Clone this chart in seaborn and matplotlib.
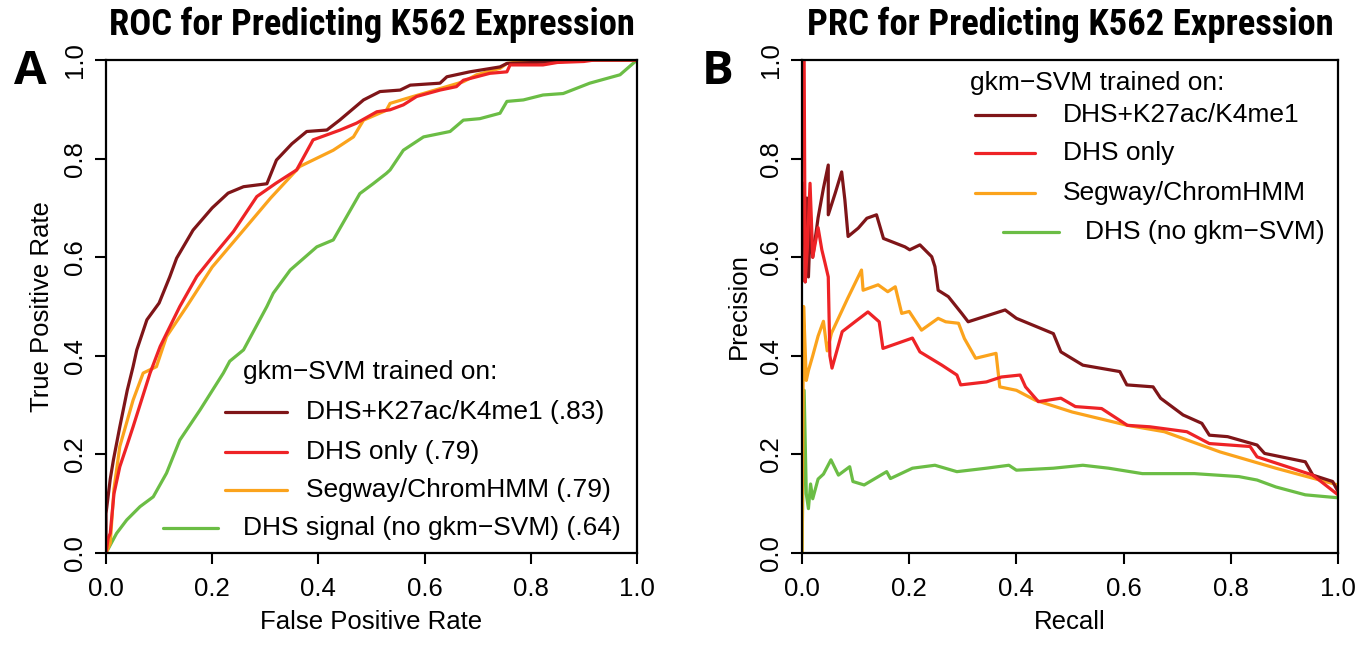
import numpy as np
import pandas as pd
import matplotlib
matplotlib.use("Agg")
import matplotlib.pyplot as plt
import seaborn as sns
from matplotlib.lines import Line2D
from matplotlib import font_manager

# ---------------- data ----------------
series_names = ["DHS+K27ac/K4me1", "DHS only", "Segway/ChromHMM", "DHS signal"]
roc_auc_labels = ["(.83)", "(.79)", "(.79)", "(.64)"]
colors = ["#7f1518", "#ee2326", "#fba31c", "#6bbd45"]

# ROC curves (FPR, TPR)
roc_darkred_x = [0, 0.0, 0.008, 0.014, 0.026, 0.04, 0.051, 0.058, 0.077, 0.10, 0.12, 0.133, 0.164, 0.2, 0.23,
                 0.259, 0.303, 0.321, 0.35, 0.378, 0.416, 0.44, 0.485, 0.516, 0.554, 0.573, 0.629, 0.642,
                 0.685, 0.742, 0.755, 0.861, 0.9, 1.0]
roc_darkred_y = [0, 0.08, 0.15, 0.189, 0.256, 0.33, 0.378, 0.412, 0.473, 0.507, 0.56, 0.598, 0.655, 0.70, 0.73,
                 0.743, 0.749, 0.797, 0.83, 0.855, 0.858, 0.878, 0.919, 0.936, 0.939, 0.949, 0.953, 0.966,
                 0.976, 0.986, 0.993, 0.997, 1.0, 1.0]

roc_red_x = [0, 0.004, 0.008, 0.015, 0.026, 0.04, 0.051, 0.083, 0.102, 0.139, 0.171, 0.2, 0.24, 0.284, 0.32,
             0.359, 0.39, 0.441, 0.472, 0.51, 0.535, 0.56, 0.585, 0.629, 0.66, 0.673, 0.723, 0.755, 0.761,
             0.823, 0.85, 0.9, 0.92, 1.0]
roc_red_y = [0, 0.03, 0.04, 0.12, 0.175, 0.22, 0.256, 0.365, 0.419, 0.5, 0.561, 0.6, 0.652, 0.723, 0.75,
             0.777, 0.838, 0.858, 0.872, 0.895, 0.899, 0.909, 0.926, 0.939, 0.946, 0.959, 0.973, 0.976, 0.99,
             0.99, 0.995, 0.997, 1.0, 1.0]

roc_orange_x = [0, 0.008, 0.015, 0.026, 0.051, 0.07, 0.095, 0.114, 0.152, 0.2, 0.259, 0.31, 0.365, 0.428,
                0.466, 0.485, 0.528, 0.535, 0.566, 0.629, 0.673, 0.698, 0.742, 0.755, 0.8, 1.0]
roc_orange_y = [0, 0.02, 0.13, 0.216, 0.31, 0.365, 0.378, 0.439, 0.5, 0.58, 0.655, 0.72, 0.784, 0.817,
                0.844, 0.878, 0.898, 0.912, 0.922, 0.942, 0.956, 0.97, 0.983, 0.993, 1.0, 1.0]

roc_green_x = [0, 0.01, 0.02, 0.039, 0.064, 0.089, 0.114, 0.139, 0.177, 0.221, 0.233, 0.259, 0.303, 0.315,
               0.347, 0.397, 0.428, 0.478, 0.503, 0.528, 0.535, 0.56, 0.598, 0.648, 0.673, 0.704, 0.742,
               0.755, 0.786, 0.823, 0.861, 0.911, 0.968, 1.0]
roc_green_y = [0, 0.02, 0.04, 0.067, 0.094, 0.114, 0.162, 0.229, 0.29, 0.365, 0.389, 0.412, 0.5, 0.527,
               0.574, 0.621, 0.635, 0.729, 0.749, 0.77, 0.777, 0.817, 0.844, 0.855, 0.878, 0.881, 0.892,
               0.916, 0.919, 0.929, 0.932, 0.953, 0.97, 1.0]

# PRC curves (Recall, Precision)
prc_darkred_x = [0.003, 0.006, 0.009, 0.012, 0.016, 0.02, 0.03, 0.04, 0.049, 0.049, 0.062, 0.074, 0.080,
                 0.086, 0.105, 0.121, 0.139, 0.152, 0.192, 0.201, 0.22, 0.242, 0.248, 0.254, 0.273, 0.298,
                 0.31, 0.379, 0.4, 0.469, 0.483, 0.524, 0.593, 0.606, 0.655, 0.669, 0.711, 0.746, 0.76,
                 0.794, 0.849, 0.863, 0.939, 0.953, 0.99, 1.0]
prc_darkred_y = [0.75, 0.55, 0.72, 0.56, 0.68, 0.60, 0.68, 0.74, 0.787, 0.686, 0.73, 0.773, 0.716,
                 0.642, 0.659, 0.679, 0.686, 0.638, 0.621, 0.615, 0.625, 0.601, 0.581, 0.533, 0.52, 0.486,
                 0.469, 0.493, 0.476, 0.445, 0.408, 0.381, 0.368, 0.341, 0.337, 0.314, 0.28, 0.263, 0.239,
                 0.236, 0.219, 0.202, 0.185, 0.158, 0.145, 0.125]

prc_red_x = [0.004, 0.006, 0.01, 0.015, 0.02, 0.03, 0.037, 0.043, 0.049, 0.052, 0.056, 0.075, 0.1,
             0.123, 0.144, 0.151, 0.206, 0.22, 0.261, 0.289, 0.296, 0.344, 0.372, 0.407, 0.417, 0.441,
             0.483, 0.51, 0.559, 0.607, 0.649, 0.718, 0.76, 0.836, 0.849, 0.953, 1.0]
prc_red_y = [1.0, 0.55, 0.62, 0.75, 0.60, 0.66, 0.615, 0.588, 0.56, 0.40, 0.375, 0.449, 0.47,
             0.489, 0.469, 0.415, 0.436, 0.408, 0.381, 0.361, 0.341, 0.347, 0.357, 0.361, 0.337, 0.307,
             0.314, 0.297, 0.293, 0.259, 0.256, 0.246, 0.222, 0.216, 0.195, 0.158, 0.118]

prc_orange_x = [0.0, 0.003, 0.008, 0.012, 0.02, 0.03, 0.04, 0.047, 0.055, 0.085, 0.111, 0.114, 0.142, 0.16,
                0.174, 0.186, 0.2, 0.223, 0.254, 0.268, 0.292, 0.303, 0.324, 0.362, 0.369, 0.4, 0.435,
                0.504, 0.607, 0.676, 0.78, 0.884, 1.0]
prc_orange_y = [0.0, 0.5, 0.35, 0.37, 0.40, 0.44, 0.47, 0.41, 0.446, 0.516, 0.574, 0.533, 0.544, 0.53,
                0.54, 0.486, 0.49, 0.452, 0.476, 0.469, 0.466, 0.435, 0.395, 0.405, 0.337, 0.33, 0.31,
                0.286, 0.259, 0.246, 0.205, 0.172, 0.138]

prc_green_x = [0.0, 0.004, 0.008, 0.012, 0.016, 0.02, 0.03, 0.04, 0.054, 0.068, 0.089, 0.095, 0.116, 0.158,
               0.165, 0.206, 0.248, 0.289, 0.344, 0.386, 0.4, 0.469, 0.524, 0.572, 0.635, 0.732, 0.815,
               0.849, 0.884, 0.939, 1.0]
prc_green_y = [0.0, 0.33, 0.12, 0.09, 0.14, 0.11, 0.15, 0.16, 0.189, 0.158, 0.175, 0.145, 0.138, 0.165,
               0.151, 0.172, 0.178, 0.165, 0.172, 0.178, 0.168, 0.172, 0.178, 0.172, 0.161, 0.161, 0.155,
               0.148, 0.134, 0.118, 0.112]

tick_values = [0.0, 0.2, 0.4, 0.6, 0.8, 1.0]
tick_labels = ["0.0", "0.2", "0.4", "0.6", "0.8", "1.0"]

# ---------------- style ----------------
sns.set_style("white")
plt.rcParams["font.family"] = ["Liberation Sans", "DejaVu Sans"]
for k in ["text.color", "axes.labelcolor", "xtick.color", "ytick.color", "axes.edgecolor"]:
    plt.rcParams[k] = "black"

W, H = 1371, 646
fig = plt.figure(figsize=(W / 100, H / 100), dpi=100)
axA = fig.add_axes([106 / W, 1 - 553 / H, 531 / W, 493 / H])
axB = fig.add_axes([802 / W, 1 - 553 / H, 536 / W, 493 / H])

FS = 18.5
LFS = 19
LW = 2.3

def draw(ax, xs, ys, col):
    df = pd.DataFrame({"x": xs, "y": ys})
    sns.lineplot(data=df, x="x", y="y", sort=False, estimator=None, color=col, lw=LW, ax=ax)

roc = [(roc_darkred_x, roc_darkred_y), (roc_red_x, roc_red_y),
       (roc_orange_x, roc_orange_y), (roc_green_x, roc_green_y)]
prc = [(prc_darkred_x, prc_darkred_y), (prc_red_x, prc_red_y),
       (prc_orange_x, prc_orange_y), (prc_green_x, prc_green_y)]
order = [3, 2, 0, 1]
for i in order:
    draw(axA, roc[i][0], roc[i][1], colors[i])
    draw(axB, prc[i][0], prc[i][1], colors[i])

for ax, xl, yl, ylx in [(axA, "False Positive Rate", "True Positive Rate", -0.121),
                        (axB, "Recall", "Precision", -0.118)]:
    ax.set_xlim(0, 1)
    ax.set_ylim(0, 1)
    ax.set_xticks(tick_values)
    ax.set_xticklabels(tick_labels)
    ax.set_yticks(tick_values)
    ax.set_yticklabels(tick_labels, rotation=90, va="center")
    for s in ax.spines.values():
        s.set_visible(True)
        s.set_color("black")
        s.set_linewidth(1.6)
    ax.tick_params(axis="both", direction="out", length=8, width=1.5, colors="black",
                   labelsize=FS, bottom=True, left=True, top=False, right=False)
    ax.tick_params(axis="x", pad=9)
    ax.tick_params(axis="y", pad=6)
    ax.set_xlabel(xl, fontsize=FS, va="center")
    ax.set_ylabel(yl, fontsize=FS, va="center")
    ax.xaxis.set_label_coords(0.5, -0.14)
    ax.yaxis.set_label_coords(ylx, 0.5)
    ax.grid(False)

# legends (drawn manually to mimic the R layout)
def legend(ax, title_xy, ys, line_x, text_x, gline_x, gtext_x, labels):
    ax.text(title_xy[0], title_xy[1], "gkm\u2212SVM trained on:", transform=ax.transAxes,
            fontsize=LFS, ha="left", va="center")
    for i in range(4):
        lx = gline_x if i == 3 else line_x
        tx = gtext_x if i == 3 else text_x
        ax.add_line(Line2D(lx, [ys[i], ys[i]], transform=ax.transAxes, color=colors[i], lw=LW))
        ax.text(tx, ys[i], labels[i], transform=ax.transAxes, fontsize=LFS, ha="left", va="center")

labelsA = [f"{series_names[i]} {roc_auc_labels[i]}" for i in range(3)] + \
          ["DHS signal (no gkm\u2212SVM) " + roc_auc_labels[3]]
legend(axA, (0.258, 0.367), [0.287, 0.2055, 0.128, 0.051],
       [0.224, 0.340], 0.376, [0.107, 0.211], 0.258, labelsA)

labelsB = series_names[:3] + ["DHS (no gkm\u2212SVM)"]
legend(axB, (0.313, 0.953), [0.888, 0.811, 0.730, 0.652],
       [0.323, 0.435], 0.487, [0.375, 0.479], 0.528, labelsB)

# titles and panel letters
available = {f.name for f in font_manager.fontManager.ttflist}
title_family = "Liberation Sans"
for cand in ["Liberation Sans Narrow", "Arial Narrow", "Roboto Condensed", "DejaVu Sans Condensed"]:
    if cand in available:
        title_family = cand
        break

renderer = fig.canvas.get_renderer()
for cx, txt in [((106 + 637) / 2, "ROC for Predicting K562 Expression"),
                ((802 + 1338) / 2, "PRC for Predicting K562 Expression")]:
    t = fig.text(cx / W, 1 - 35 / H, txt, fontsize=23, fontweight="bold", ha="center",
                 va="baseline", family=title_family)
    wpx = t.get_window_extent(renderer).width
    t.set_fontsize(23 * 528 / wpx)

fig.text(30 / W, 1 - 72 / H, "A", fontsize=34, fontweight="bold", ha="center", va="center",
         family=["Open Sans", "DejaVu Sans"])
fig.text(718 / W, 1 - 72 / H, "B", fontsize=34, fontweight="bold", ha="center", va="center",
         family=["Open Sans", "DejaVu Sans"])

fig.savefig("out.png", dpi=100, facecolor="white")
